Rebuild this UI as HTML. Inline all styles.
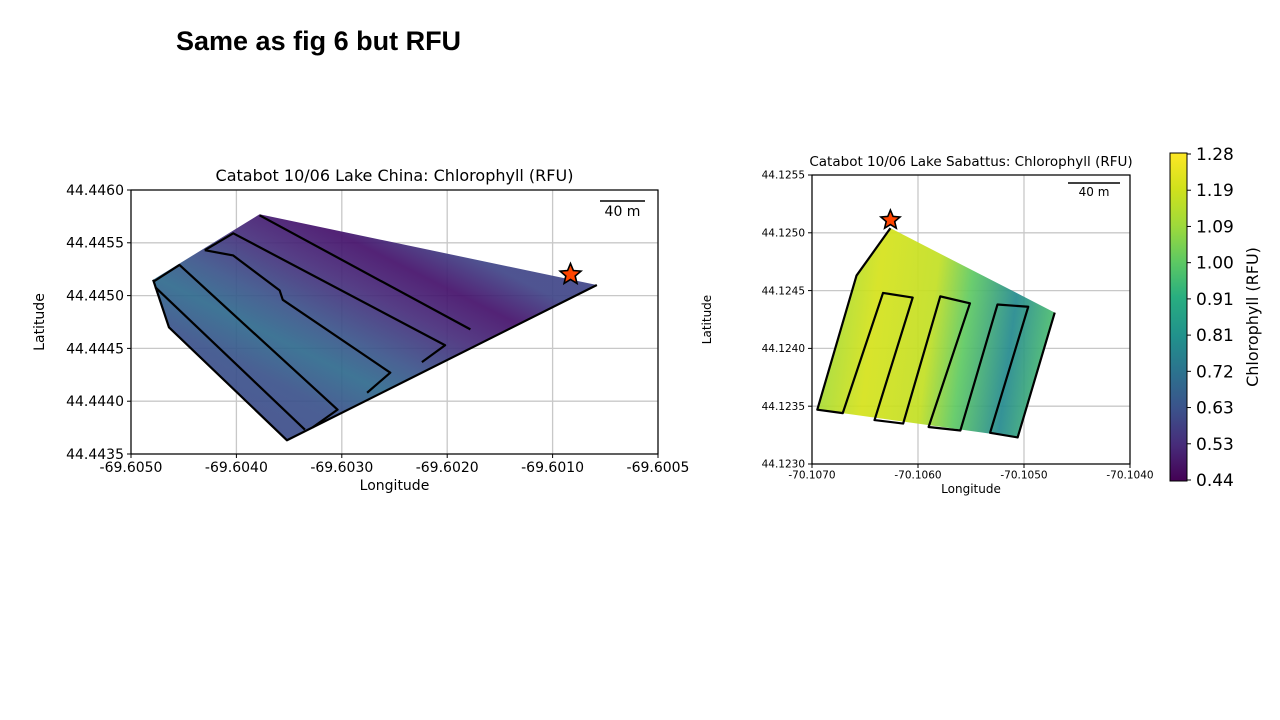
<!DOCTYPE html>
<html><head><meta charset="utf-8"><style>
html,body{margin:0;padding:0;background:#fff;}
svg{display:block;font-family:"DejaVu Sans","Liberation Sans",sans-serif;}
</style></head><body>
<svg id="s" width="1280" height="720" viewBox="0 0 1280 720">
<defs>
<linearGradient id="gL" gradientUnits="userSpaceOnUse" x1="220" y1="430" x2="340" y2="190">
<stop offset="0" stop-color="#3e4a89"/><stop offset="0.25" stop-color="#3b528b"/><stop offset="0.4" stop-color="#2f6a8d"/><stop offset="0.52" stop-color="#3b558b"/><stop offset="0.7" stop-color="#472d7b"/><stop offset="0.85" stop-color="#44106a"/><stop offset="1" stop-color="#404688"/>
</linearGradient>
<linearGradient id="gR" gradientUnits="userSpaceOnUse" x1="825" y1="330" x2="1055" y2="360">
<stop offset="0" stop-color="#a5db36"/><stop offset="0.2" stop-color="#d5e21a"/><stop offset="0.45" stop-color="#c2df23"/><stop offset="0.6" stop-color="#5ec962"/><stop offset="0.8" stop-color="#23898e"/><stop offset="1" stop-color="#52c569"/>
</linearGradient>
<linearGradient id="gC" x1="0" y1="1" x2="0" y2="0">
<stop offset="0" stop-color="#440154"/><stop offset="0.11" stop-color="#472c7a"/><stop offset="0.22" stop-color="#3b528b"/><stop offset="0.33" stop-color="#2c728e"/><stop offset="0.44" stop-color="#21918c"/><stop offset="0.56" stop-color="#28ae80"/><stop offset="0.67" stop-color="#5ec962"/><stop offset="0.78" stop-color="#9fda3a"/><stop offset="0.89" stop-color="#d0e11c"/><stop offset="1" stop-color="#fde725"/>
</linearGradient>
<clipPath id="cL"><rect x="131" y="190" width="527" height="264"/></clipPath>
<clipPath id="cR"><rect x="812" y="175" width="318" height="289"/></clipPath>
</defs>
<text x="176" y="50" font-size="27" font-weight="bold" fill="#000" style="font-family:'Liberation Sans',sans-serif">Same as fig 6 but RFU</text>
<g id="left"></g>
<g id="right"></g>
<g id="cbar"></g>
</svg>
<script>
// ---- Left chart data (Lake China) ----
const lXTicks = [-69.6050, -69.6040, -69.6030, -69.6020, -69.6010, -69.6000];
const lXLabels = ["-69.6050", "-69.6040", "-69.6030", "-69.6020", "-69.6010", "-69.6005"];
const lYTicks = [44.4460, 44.4455, 44.4450, 44.4445, 44.4440, 44.4435];
const lBoundLon = [-69.60378, -69.60058, -69.60352, -69.60464, -69.60479];
const lBoundLat = [44.44577, 44.44510, 44.44363, 44.44470, 44.44515];
const lTrackLon = [
  [-69.60378, -69.60178],
  [-69.60430, -69.60403, -69.60202, -69.60224],
  [-69.60430, -69.60403, -69.60359, -69.60356, -69.60254, -69.60276],
  [-69.60479, -69.60454, -69.60304, -69.60328],
  [-69.60477, -69.60335],
  [-69.60479, -69.60464, -69.60352, -69.60058]
];
const lTrackLat = [
  [44.44576, 44.44468],
  [44.44543, 44.44559, 44.44453, 44.44437],
  [44.44543, 44.44538, 44.44505, 44.44496, 44.44427, 44.44408],
  [44.44513, 44.44529, 44.44392, 44.44375],
  [44.44508, 44.44373],
  [44.44515, 44.44470, 44.44363, 44.44510]
];
const lStar = [-69.60083, 44.44520];
// ---- Right chart data (Lake Sabattus) ----
const rXTicks = [-70.1070, -70.1060, -70.1050, -70.1040];
const rXLabels = ["-70.1070", "-70.1060", "-70.1050", "-70.1040"];
const rYTicks = [44.1255, 44.1250, 44.1245, 44.1240, 44.1235, 44.1230];
const rBoundLon = [-70.10626, -70.10471, -70.10506, -70.10695, -70.10658];
const rBoundLat = [44.12504, 44.12431, 44.12323, 44.12347, 44.12463];
const rTrackLon = [
  [-70.10626, -70.10658, -70.10695, -70.10671, -70.10633, -70.10605, -70.10641, -70.10614, -70.10579, -70.10551, -70.10590, -70.10560, -70.10525, -70.10496, -70.10532, -70.10506, -70.10471]
];
const rTrackLat = [
  [44.12504, 44.12463, 44.12347, 44.12344, 44.12448, 44.12444, 44.12338, 44.12335, 44.12445, 44.12439, 44.12332, 44.12329, 44.12438, 44.12436, 44.12327, 44.12323, 44.12431]
];
const rStar = [-70.10626, 44.12511];
// ---- Colorbar ----
const cTicks = ["1.28","1.19","1.09","1.00","0.91","0.81","0.72","0.63","0.53","0.44"];

const NS = "http://www.w3.org/2000/svg";
function mk(parent, tag, attrs, txt){
  const e = document.createElementNS(NS, tag);
  for (const k in attrs) e.setAttribute(k, attrs[k]);
  if (txt !== undefined) e.textContent = txt;
  parent.appendChild(e); return e;
}
function lin(d0,d1,p0,p1){ return v => p0 + (v-d0)/(d1-d0)*(p1-p0); }
function starPts(cx,cy,R,r){
  let p=[]; for(let i=0;i<10;i++){const a=-Math.PI/2+i*Math.PI/5;const rr=i%2?r:R;p.push((cx+rr*Math.cos(a)).toFixed(1)+","+(cy+rr*Math.sin(a)).toFixed(1));} return p.join(" ");
}
function chart(g, cfg){
  const X = lin(cfg.xd[0], cfg.xd[1], cfg.box[0], cfg.box[2]);
  const Y = lin(cfg.yd[0], cfg.yd[1], cfg.box[3], cfg.box[1]);
  const [x0,y0,x1,y1] = cfg.box;
  cfg.xt.forEach((v,i)=>{
    const gl = mk(g,'line',{x1:X(v),x2:X(v),y1:y0,y2:y1,stroke:'#c8c8c8','stroke-width':1.3});
    
    
  });
  cfg.yt.forEach(v=>{
    const gl = mk(g,'line',{x1:x0,x2:x1,y1:Y(v),y2:Y(v),stroke:'#c8c8c8','stroke-width':1.3});
    
    
  });
  const cg = mk(g,'g',{'clip-path':cfg.clip});
  const poly = mk(cg,'polygon',{points:cfg.bLon.map((v,i)=>X(v)+","+Y(cfg.bLat[i])).join(" "),fill:cfg.fill,'fill-opacity':0.92});
  
  
  cfg.tLon.forEach((arr,j)=>{
    const pl = mk(cg,'polyline',{points:arr.map((v,i)=>X(v)+","+Y(cfg.tLat[j][i])).join(" "),fill:'none',stroke:'#000','stroke-width':2.2,'stroke-linejoin':'round'});
    
    
  });
  const st = mk(cg,'polygon',{points:starPts(X(cfg.star[0]),Y(cfg.star[1]),cfg.sr,cfg.sr*0.45),fill:'#ff4500',stroke:'#000','stroke-width':1.6});
  
  
  const fr = mk(g,'rect',{x:x0,y:y0,width:x1-x0,height:y1-y0,fill:'none',stroke:'#000','stroke-width':1.2});
  
  
  cfg.xt.forEach((v,i)=>{
    mk(g,'line',{x1:X(v),x2:X(v),y1:y1,y2:y1+4,stroke:'#000'});
    const t = mk(g,'text',{x:X(v),y:y1+cfg.fs+4,'font-size':cfg.fs,'text-anchor':'middle'},cfg.xl[i]);
    
    
  });
  cfg.yt.forEach(v=>{
    mk(g,'line',{x1:x0-4,x2:x0,y1:Y(v),y2:Y(v),stroke:'#000'});
    const t = mk(g,'text',{x:x0-7,y:Y(v)+cfg.fs*0.35,'font-size':cfg.fs,'text-anchor':'end'},v.toFixed(4));
    
    
  });
  const tt = mk(g,'text',{x:(x0+x1)/2,y:y0-9,'font-size':cfg.tfs,'text-anchor':'middle'},cfg.title);
  
  
  const xt = mk(g,'text',{x:(x0+x1)/2,y:y1+cfg.fs*2+8,'font-size':cfg.afs,'text-anchor':'middle'},'Longitude');
  
  
  const yt = mk(g,'text',{x:cfg.ylx,y:(y0+y1)/2,'font-size':cfg.afs,'text-anchor':'middle',transform:`rotate(-90 ${cfg.ylx} ${(y0+y1)/2})`},'Latitude');
  
  
  mk(g,'line',{x1:cfg.sb[0],x2:cfg.sb[1],y1:cfg.sb[2],y2:cfg.sb[2],stroke:'#000','stroke-width':1.5});
  const sbt = mk(g,'text',{x:(cfg.sb[0]+cfg.sb[1])/2,y:cfg.sb[2]+cfg.sbf+1,'font-size':cfg.sbf,'text-anchor':'middle'},'40 m');
  
  
}
chart(document.getElementById('left'),{
  box:[131,190,658,454], xd:[-69.6050,-69.6000], yd:[44.4435,44.4460],
  xt:lXTicks, xl:lXLabels, yt:lYTicks, bLon:lBoundLon, bLat:lBoundLat,
  tLon:lTrackLon, tLat:lTrackLat, star:lStar, sr:11, fill:'url(#gL)', clip:'url(#cL)',
  fs:14, tfs:16, afs:14, ylx:44, title:'Catabot 10/06 Lake China: Chlorophyll (RFU)',
  sb:[600,645,201], sbf:14
});
chart(document.getElementById('right'),{
  box:[812,175,1130,464], xd:[-70.1070,-70.1040], yd:[44.1230,44.1255],
  xt:rXTicks, xl:rXLabels, yt:rYTicks, bLon:rBoundLon, bLat:rBoundLat,
  tLon:rTrackLon, tLat:rTrackLat, star:rStar, sr:10, fill:'url(#gR)', clip:'url(#cR)',
  fs:10.5, tfs:13.5, afs:12, ylx:711, title:'Catabot 10/06 Lake Sabattus: Chlorophyll (RFU)',
  sb:[1068,1120,183], sbf:12
});
(function(){
  const g = document.getElementById('cbar');
  const top=153, bot=481;
  const r = mk(g,'rect',{x:1170,y:top,width:17,height:bot-top,fill:'url(#gC)',stroke:'#000','stroke-width':1});
  
  
  const step=(bot-top-2)/(cTicks.length-1);
  cTicks.forEach((v,i)=>{
    const y=top+1+i*step;
    mk(g,'line',{x1:1187,x2:1191,y1:y,y2:y,stroke:'#000'});
    const t=mk(g,'text',{x:1196,y:y+6,'font-size':17},v);
    
    
  });
  const lbl=mk(g,'text',{x:1258,y:317,'font-size':16,'text-anchor':'middle',transform:'rotate(-90 1258 317)'},'Chlorophyll (RFU)');
  
  
})();
</script>
</body></html>
